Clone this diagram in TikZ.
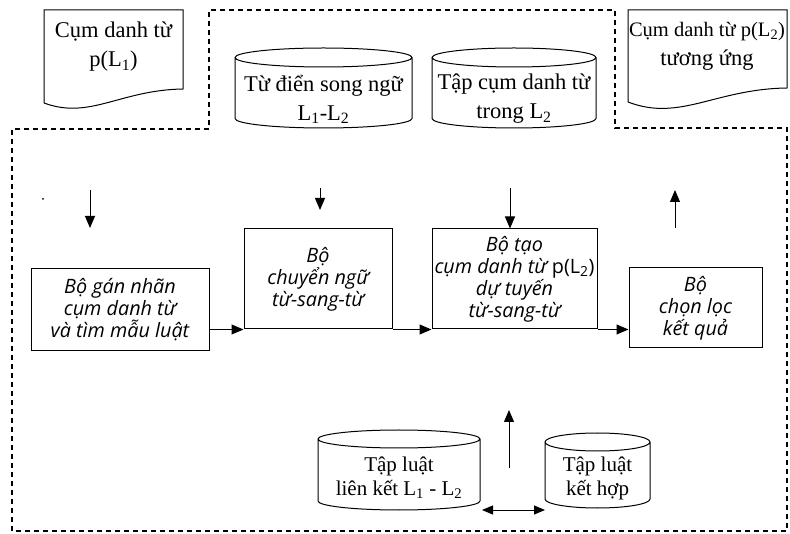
\documentclass[tikz,border=0pt]{standalone}
\usepackage{fontspec}
\setmainfont{Liberation Serif}
\newfontfamily\boxfont{Open Sans}
\usetikzlibrary{arrows.meta,calc}
\tikzset{
  shapenode/.style={inner sep=0pt, outer sep=0pt},
  shp/.style={line width=1pt},
  procbox/.style={draw, line width=1pt, align=center, inner sep=0pt,
    font={\boxfont\itshape\fontsize{19.8}{22}\selectfont}},
  lbl/.style={align=center, inner sep=0pt, font={\fontsize{22.5}{29}\selectfont}},
  lblsmall/.style={align=center, inner sep=0pt, font={\fontsize{21}{24}\selectfont}},
  arr/.style={-{Triangle[length=12pt,width=10pt]}, line width=1pt},
  darr/.style={{Triangle[length=11pt,width=9pt]}-{Triangle[length=11pt,width=9pt]}, line width=1pt},
  outline/.style={line width=1.1pt, dash pattern=on 5pt off 4pt}
}
\newcommand\drawcyl[2]{%
  \draw[shp] let \p1=(#1.north west), \p2=(#1.south east), \n1={(\x2-\x1)/2} in
    (\x1,\y1-#2) -- (\x1,\y2+#2)
    arc[start angle=180, end angle=360, x radius=\n1, y radius=#2]
    -- (\x2,\y1-#2)
    arc[start angle=0, end angle=360, x radius=\n1, y radius=#2];}
\begin{document}
\begin{tikzpicture}[x=1pt,y=1pt]
\useasboundingbox (0,0) rectangle (790,533);

% dashed system outline
\draw[outline] (12,2) -- (12,404) -- (209,404) -- (209,523) -- (615,523)
  -- (615,405) -- (787,405) -- (787,2) -- cycle;

% input document
\node[shapenode, minimum width=139pt, minimum height=93pt] (d1) at (113.5,476.5) {};
\draw[shp] (d1.south west) -- (d1.north west) -- (d1.north east)
  -- ([yshift=14pt]d1.south east) .. controls (120,443) and (90,413) .. (d1.south west);
\node[lbl] (d1t) at (113.5,486) {Cụm danh từ\\p(L\textsubscript{1})};

% output document
\node[shapenode, minimum width=159pt, minimum height=92pt] (d2) at (707.5,477) {};
\draw[shp] (d2.south west) -- (d2.north west) -- (d2.north east)
  -- ([yshift=14pt]d2.south east) .. controls (715,444) and (680,411) .. (d2.south west);
\node[lbl] (d2t) at (707,487) {{\fontsize{20.5}{29}\selectfont Cụm danh từ p(L\textsubscript{2})}\\tương ứng};

% top databases
\node[shapenode, minimum width=177pt, minimum height=80pt] (c1) at (323.5,445) {};
\drawcyl{c1}{9.5pt}
\node[lbl] (c1t) at (323.5,434) {Từ điển song ngữ\\L\textsubscript{1}-L\textsubscript{2}};

\node[shapenode, minimum width=164pt, minimum height=80pt] (c2) at (514,445) {};
\drawcyl{c2}{9.5pt}
\node[lbl] (c2t) at (514,434) {Tập cụm danh từ\\trong L\textsubscript{2}};

% bottom databases
\node[shapenode, minimum width=162pt, minimum height=80pt] (c3) at (399,63) {};
\drawcyl{c3}{9pt}
\node[lblsmall] (c3t) at (399,55) {Tập luật\\liên kết L\textsubscript{1} - L\textsubscript{2}};

\node[shapenode, minimum width=105pt, minimum height=75pt] (c4) at (597.5,62.5) {};
\drawcyl{c4}{9pt}
\node[lblsmall] (c4t) at (597.5,55) {Tập luật\\kết hợp};

% processing boxes
\node[procbox, minimum width=178pt, minimum height=82pt] (b1) at (120,223)
  {Bộ gán nhãn\\cụm danh từ\\và tìm mẫu luật};
\node[procbox, minimum width=148pt, minimum height=100pt] (b2) at (318,254)
  {Bộ\\chuyển ngữ\\từ-sang-từ};
\node[procbox, minimum width=165pt, minimum height=100pt] (b3) at (514.5,254)
  {Bộ tạo\\cụm danh từ {\upshape p(L\textsubscript{2})}\\dự tuyến\\từ-sang-từ};
\node[procbox, minimum width=133pt, minimum height=80pt] (b4) at (695.5,225)
  {Bộ\\chọn lọc\\kết quả};

% flow arrows
\draw[arr] (b1.east |- b2.south) -- (b2.south west);
\draw[arr] (b2.south east) -- (b3.south west);
\draw[arr] (b3.south east) -- (b3.south east -| b4.west);

% free arrows
\coordinate (a1s) at (90,343);
\coordinate (a1e) at (90,305);
\draw[arr] (a1s) -- (a1e);
\fill (43,334) circle (1pt);
\coordinate (a2s) at (320,345);
\coordinate (a2e) at (320,323);
\draw[arr] (a2s) -- (a2e);
\coordinate (a3s) at (510,345);
\draw[arr] (a3s) -- (a3s |- b3.north);
\coordinate (a4s) at (675,305);
\coordinate (a4e) at (675,343);
\draw[arr] (a4s) -- (a4e);
\coordinate (a5s) at (509,65);
\coordinate (a5e) at (509,123);
\draw[arr] (a5s) -- (a5e);
\draw[darr] ([xshift=2pt]c3.south east) -- (c3.south east -| c4.west);
\end{tikzpicture}
\end{document}
